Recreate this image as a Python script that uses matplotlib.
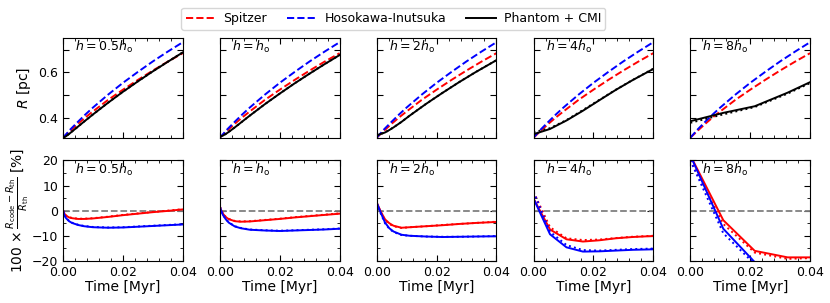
import matplotlib
matplotlib.use("Agg")
import matplotlib.pyplot as plt
import numpy as np
from matplotlib.ticker import MultipleLocator, FixedLocator, FixedFormatter

# theory curves (same in every panel)
t_th = [0, 0.0025, 0.005, 0.0075, 0.01, 0.015, 0.02, 0.025, 0.03, 0.035, 0.04]
r_spitzer = [0.314, 0.345, 0.375, 0.403, 0.429, 0.479, 0.524, 0.567, 0.608, 0.647, 0.684]
r_hosokawa = [0.314, 0.351, 0.384, 0.416, 0.446, 0.502, 0.554, 0.602, 0.648, 0.691, 0.732]

labels = [r"$h=0.5h_{\rm o}$", r"$h=h_{\rm o}$", r"$h=2h_{\rm o}$",
          r"$h=4h_{\rm o}$", r"$h=8h_{\rm o}$"]

# code output times for each panel
t_code = [
    [0, 0.0005, 0.001, 0.002, 0.003, 0.005, 0.007, 0.01, 0.015, 0.02, 0.025, 0.03, 0.035, 0.04],
    [0, 0.0005, 0.001, 0.002, 0.003, 0.005, 0.007, 0.01, 0.015, 0.02, 0.025, 0.03, 0.035, 0.04],
    [0, 0.0014, 0.0028, 0.0042, 0.0056, 0.0083, 0.011, 0.0165, 0.022, 0.0275, 0.033, 0.04],
    [0, 0.0055, 0.011, 0.0165, 0.022, 0.0275, 0.033, 0.04],
    [0, 0.011, 0.0215, 0.0325, 0.04],
]

# radius from Phantom + CMI [pc], solid and dotted runs
r_code = [
    [0.314, 0.3163, 0.3203, 0.3301, 0.341, 0.3624, 0.3841, 0.4157, 0.4665, 0.5149, 0.5605, 0.6045, 0.6464, 0.6874],
    [0.3187, 0.3205, 0.3229, 0.3305, 0.3395, 0.3591, 0.3797, 0.4106, 0.4603, 0.507, 0.552, 0.5947, 0.636, 0.6758],
    [0.324, 0.3302, 0.3368, 0.3473, 0.3587, 0.3832, 0.4102, 0.462, 0.5104, 0.5568, 0.6006, 0.6532],
    [0.329, 0.352, 0.3891, 0.4319, 0.4779, 0.5233, 0.5652, 0.6149],
    [0.386, 0.4225, 0.4515, 0.511, 0.557],
]
r_code_dot = [
    [0.3145, 0.3167, 0.3206, 0.3303, 0.3412, 0.3626, 0.3843, 0.4159, 0.4667, 0.5151, 0.5607, 0.6047, 0.6466, 0.6876],
    [0.3192, 0.3209, 0.3232, 0.3307, 0.3397, 0.3593, 0.3799, 0.4108, 0.4605, 0.5072, 0.5522, 0.5949, 0.6362, 0.676],
    [0.3245, 0.3306, 0.3371, 0.3476, 0.359, 0.3835, 0.4105, 0.4622, 0.5106, 0.557, 0.6008, 0.6534],
    [0.3376, 0.3554, 0.3909, 0.4349, 0.4795, 0.5239, 0.5658, 0.6156],
    [0.379, 0.416, 0.448, 0.507, 0.553],
]

# relative difference to Spitzer [%]
d_spitzer = [
    [0, -1.3, -2.0, -2.7, -3.0, -3.3, -3.3, -3.1, -2.5, -1.8, -1.2, -0.6, -0.1, 0.5],
    [1.5, 0.0, -1.2, -2.6, -3.4, -4.2, -4.4, -4.3, -3.8, -3.3, -2.7, -2.2, -1.7, -1.2],
    [3.2, -0.5, -3.5, -5.0, -6.0, -6.8, -6.6, -6.2, -5.8, -5.3, -4.9, -4.5],
    [4.8, -7.5, -11.4, -12.3, -11.8, -11.0, -10.5, -10.1],
    [22, -3.8, -16.0, -18.6, -18.6],
]
d_spitzer_dot = [
    [0.1, -1.2, -1.9, -2.6, -2.9, -3.2, -3.2, -3.0, -2.4, -1.7, -1.1, -0.5, 0.0, 0.6],
    [1.6, 0.1, -1.1, -2.5, -3.3, -4.1, -4.3, -4.2, -3.7, -3.2, -2.6, -2.1, -1.6, -1.1],
    [3.0, -0.8, -3.8, -5.3, -6.2, -6.9, -6.6, -6.2, -5.7, -5.3, -4.9, -4.4],
    [7.5, -6.6, -11.0, -11.7, -11.5, -10.9, -10.4, -10.0],
    [20, -5.3, -16.7, -19.2, -18.9],
]

# relative difference to Hosokawa-Inutsuka [%]
d_hosokawa = [
    [0, -2.0, -3.0, -4.2, -4.9, -5.7, -6.2, -6.6, -6.8, -6.7, -6.4, -6.1, -5.8, -5.5],
    [1.5, -0.3, -1.7, -3.5, -4.8, -6.3, -7.0, -7.6, -7.9, -8.1, -7.9, -7.7, -7.5, -7.2],
    [3.2, -1.0, -4.8, -7.0, -8.3, -9.6, -10.0, -10.3, -10.5, -10.4, -10.3, -10.2],
    [4.8, -9.4, -14.6, -16.3, -16.2, -15.9, -15.6, -15.4],
    [22, -7.2, -20.5, -23.7, -24.0],
]
d_hosokawa_dot = [
    [0.1, -1.9, -2.9, -4.1, -4.8, -5.6, -6.1, -6.5, -6.7, -6.6, -6.3, -6.0, -5.7, -5.4],
    [1.6, -0.2, -1.6, -3.4, -4.7, -6.2, -6.9, -7.5, -7.8, -8.0, -7.8, -7.6, -7.4, -7.1],
    [3.0, -1.3, -5.1, -7.2, -8.5, -9.7, -10.0, -10.3, -10.4, -10.4, -10.3, -10.1],
    [7.5, -8.4, -13.7, -15.7, -15.9, -15.6, -15.3, -15.1],
    [20, -9.0, -21.3, -24.2, -24.2],
]

fig, axes = plt.subplots(2, 5, figsize=(8.3, 3.03), dpi=100)
fig.subplots_adjust(left=0.076, right=0.976, top=0.875, bottom=0.139,
                    wspace=0.31, hspace=0.22)

lw = 1.4
for i in range(5):
    ax = axes[0, i]
    ax.plot(t_th, r_spitzer, color="red", ls="--", lw=lw, label="Spitzer")
    ax.plot(t_th, r_hosokawa, color="blue", ls="--", lw=lw, label="Hosokawa-Inutsuka")
    ax.plot(t_code[i], r_code[i], color="black", ls="-", lw=lw, label="Phantom + CMI")
    ax.plot(t_code[i], r_code_dot[i], color="black", ls=":", lw=lw)
    ax.set_ylim(0.311, 0.751)
    ax.yaxis.set_major_locator(FixedLocator([0.4, 0.5, 0.6, 0.7]))
    ax.yaxis.set_major_formatter(FixedFormatter(["0.4", "", "0.6", ""]))
    ax.text(0.1, 0.91, labels[i], transform=ax.transAxes, fontsize=9, va="center")

    ax = axes[1, i]
    ax.axhline(0, color="gray", ls="--", lw=1.3)
    ax.plot(t_code[i], d_spitzer[i], color="red", lw=lw)
    ax.plot(t_code[i], d_spitzer_dot[i], color="red", ls=":", lw=lw)
    ax.plot(t_code[i], d_hosokawa[i], color="blue", lw=lw)
    ax.plot(t_code[i], d_hosokawa_dot[i], color="blue", ls=":", lw=lw)
    ax.set_ylim(-20, 20)
    ax.yaxis.set_major_locator(MultipleLocator(10))
    ax.yaxis.set_minor_locator(MultipleLocator(5))
    ax.set_xlabel("Time [Myr]", fontsize=10, labelpad=1)
    ax.text(0.1, 0.91, labels[i], transform=ax.transAxes, fontsize=9, va="center")

for ax in axes.flat:
    ax.set_xlim(0, 0.04)
    ax.xaxis.set_major_locator(MultipleLocator(0.02))
    ax.xaxis.set_minor_locator(MultipleLocator(0.004))
    ax.tick_params(which="both", direction="in", top=True, right=True, labelsize=9)
    ax.tick_params(which="major", length=4)
    ax.tick_params(which="minor", length=2)

for ax in axes[0]:
    ax.tick_params(labelbottom=False)
for ax in axes.flat:
    if ax not in (axes[0, 0], axes[1, 0]):
        ax.tick_params(labelleft=False)
for ax in axes[1]:
    ax.set_xticks([0, 0.02, 0.04])
    ax.set_xticklabels(["0.00", "0.02", "0.04"])

axes[0, 0].set_ylabel(r"$R$ [pc]", fontsize=10)
axes[1, 0].set_ylabel(r"100 $\times\,\frac{R_{\rm code}-R_{\rm th}}{R_{\rm th}}$ [%]", fontsize=10, labelpad=0)

handles, leg_labels = axes[0, 0].get_legend_handles_labels()
fig.legend(handles, leg_labels, loc="upper center", bbox_to_anchor=(0.474, 0.995),
           ncol=3, fontsize=9, handlelength=2.4, columnspacing=1.6,
           handletextpad=0.6, borderpad=0.35, fancybox=True)

fig.savefig("out.png", dpi=100)
